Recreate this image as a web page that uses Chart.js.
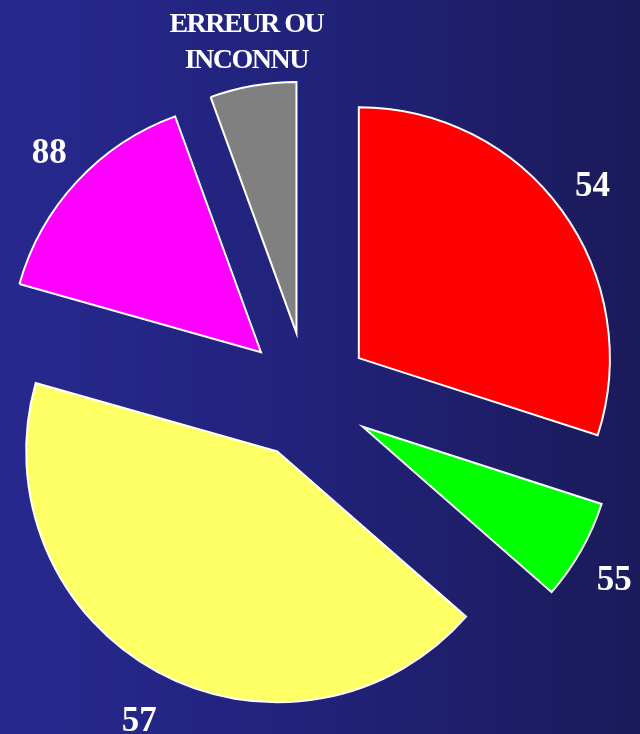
<!DOCTYPE html>
<html>
<head>
<meta charset="utf-8">
<script src="https://cdn.jsdelivr.net/npm/chart.js@4"></script>
<style>
html,body{margin:0;padding:0;width:640px;height:734px;overflow:hidden;
  background:linear-gradient(to right,#27298f 0%,#212279 50%,#1b1a5a 100%);}
#c{display:block;}
</style>
</head>
<body>
<canvas id="c" width="640" height="734"></canvas>
<script>
// ---- data ----
const categories = ['54', '55', '57', '88', 'ERREUR OU INCONNU'];
const labelLines = [['54'], ['55'], ['57'], ['88'], ['ERREUR OU', 'INCONNU']];
const values = [107.9, 23.3, 154.6, 54.2, 20.0];
const sliceColors = ['#ff0000', '#00ff00', '#ffff66', '#ff00ff', '#808080'];

// ---- styling constants ----
const EXPLODE = 63.5;
const RADIUS = 251;

const explodePlugin = {
  id: 'explode',
  afterDatasetUpdate(chart, args) {
    args.meta.data.forEach(arc => {
      const m = (arc.startAngle + arc.endAngle) / 2;
      arc.x += Math.cos(m) * EXPLODE;
      arc.y += Math.sin(m) * EXPLODE;
    });
  }
};

const labelPlugin = {
  id: 'outerLabels',
  afterDatasetsDraw(chart) {
    const meta = chart.getDatasetMeta(0);
    const ctx = chart.ctx;
    ctx.save();
    ctx.fillStyle = '#ffffff';
    ctx.textAlign = 'center';
    ctx.textBaseline = 'alphabetic';
    meta.data.forEach((arc, i) => {
      const lines = labelLines[i];
      const m = (arc.startAngle + arc.endAngle) / 2;
      const dx = Math.cos(m), dy = Math.sin(m);
      const r = arc.outerRadius;
      const cx = arc.x + dx * (r + 38);
      const cy = arc.y + dy * (r + 48) + 2 + 3 * Math.max(dy, 0);
      const multi = lines.length > 1;
      const fs = multi ? 28 : 35;
      ctx.font = 'bold ' + fs + 'px "Liberation Serif", "Times New Roman", serif';
      ctx.letterSpacing = multi ? '-1.5px' : '0px';
      const lh = 36;
      lines.forEach((t, k) => {
        const yc = cy + (k - (lines.length - 1) / 2) * lh;
        ctx.fillText(t, cx, yc + 0.34 * fs);
      });
    });
    ctx.restore();
  }
};

new Chart(document.getElementById('c'), {
  type: 'pie',
  data: {
    labels: categories,
    datasets: [{
      data: values,
      backgroundColor: sliceColors,
      borderColor: '#ffffff',
      borderWidth: 2,
      borderJoinStyle: 'miter'
    }]
  },
  options: {
    responsive: false,
    animation: false,
    radius: RADIUS,
    layout: { padding: { left: 0, right: 25, top: 57, bottom: 0 } },
    plugins: {
      legend: { display: false },
      tooltip: { enabled: false }
    },
    events: []
  },
  plugins: [explodePlugin, labelPlugin]
});
</script>
</body>
</html>
